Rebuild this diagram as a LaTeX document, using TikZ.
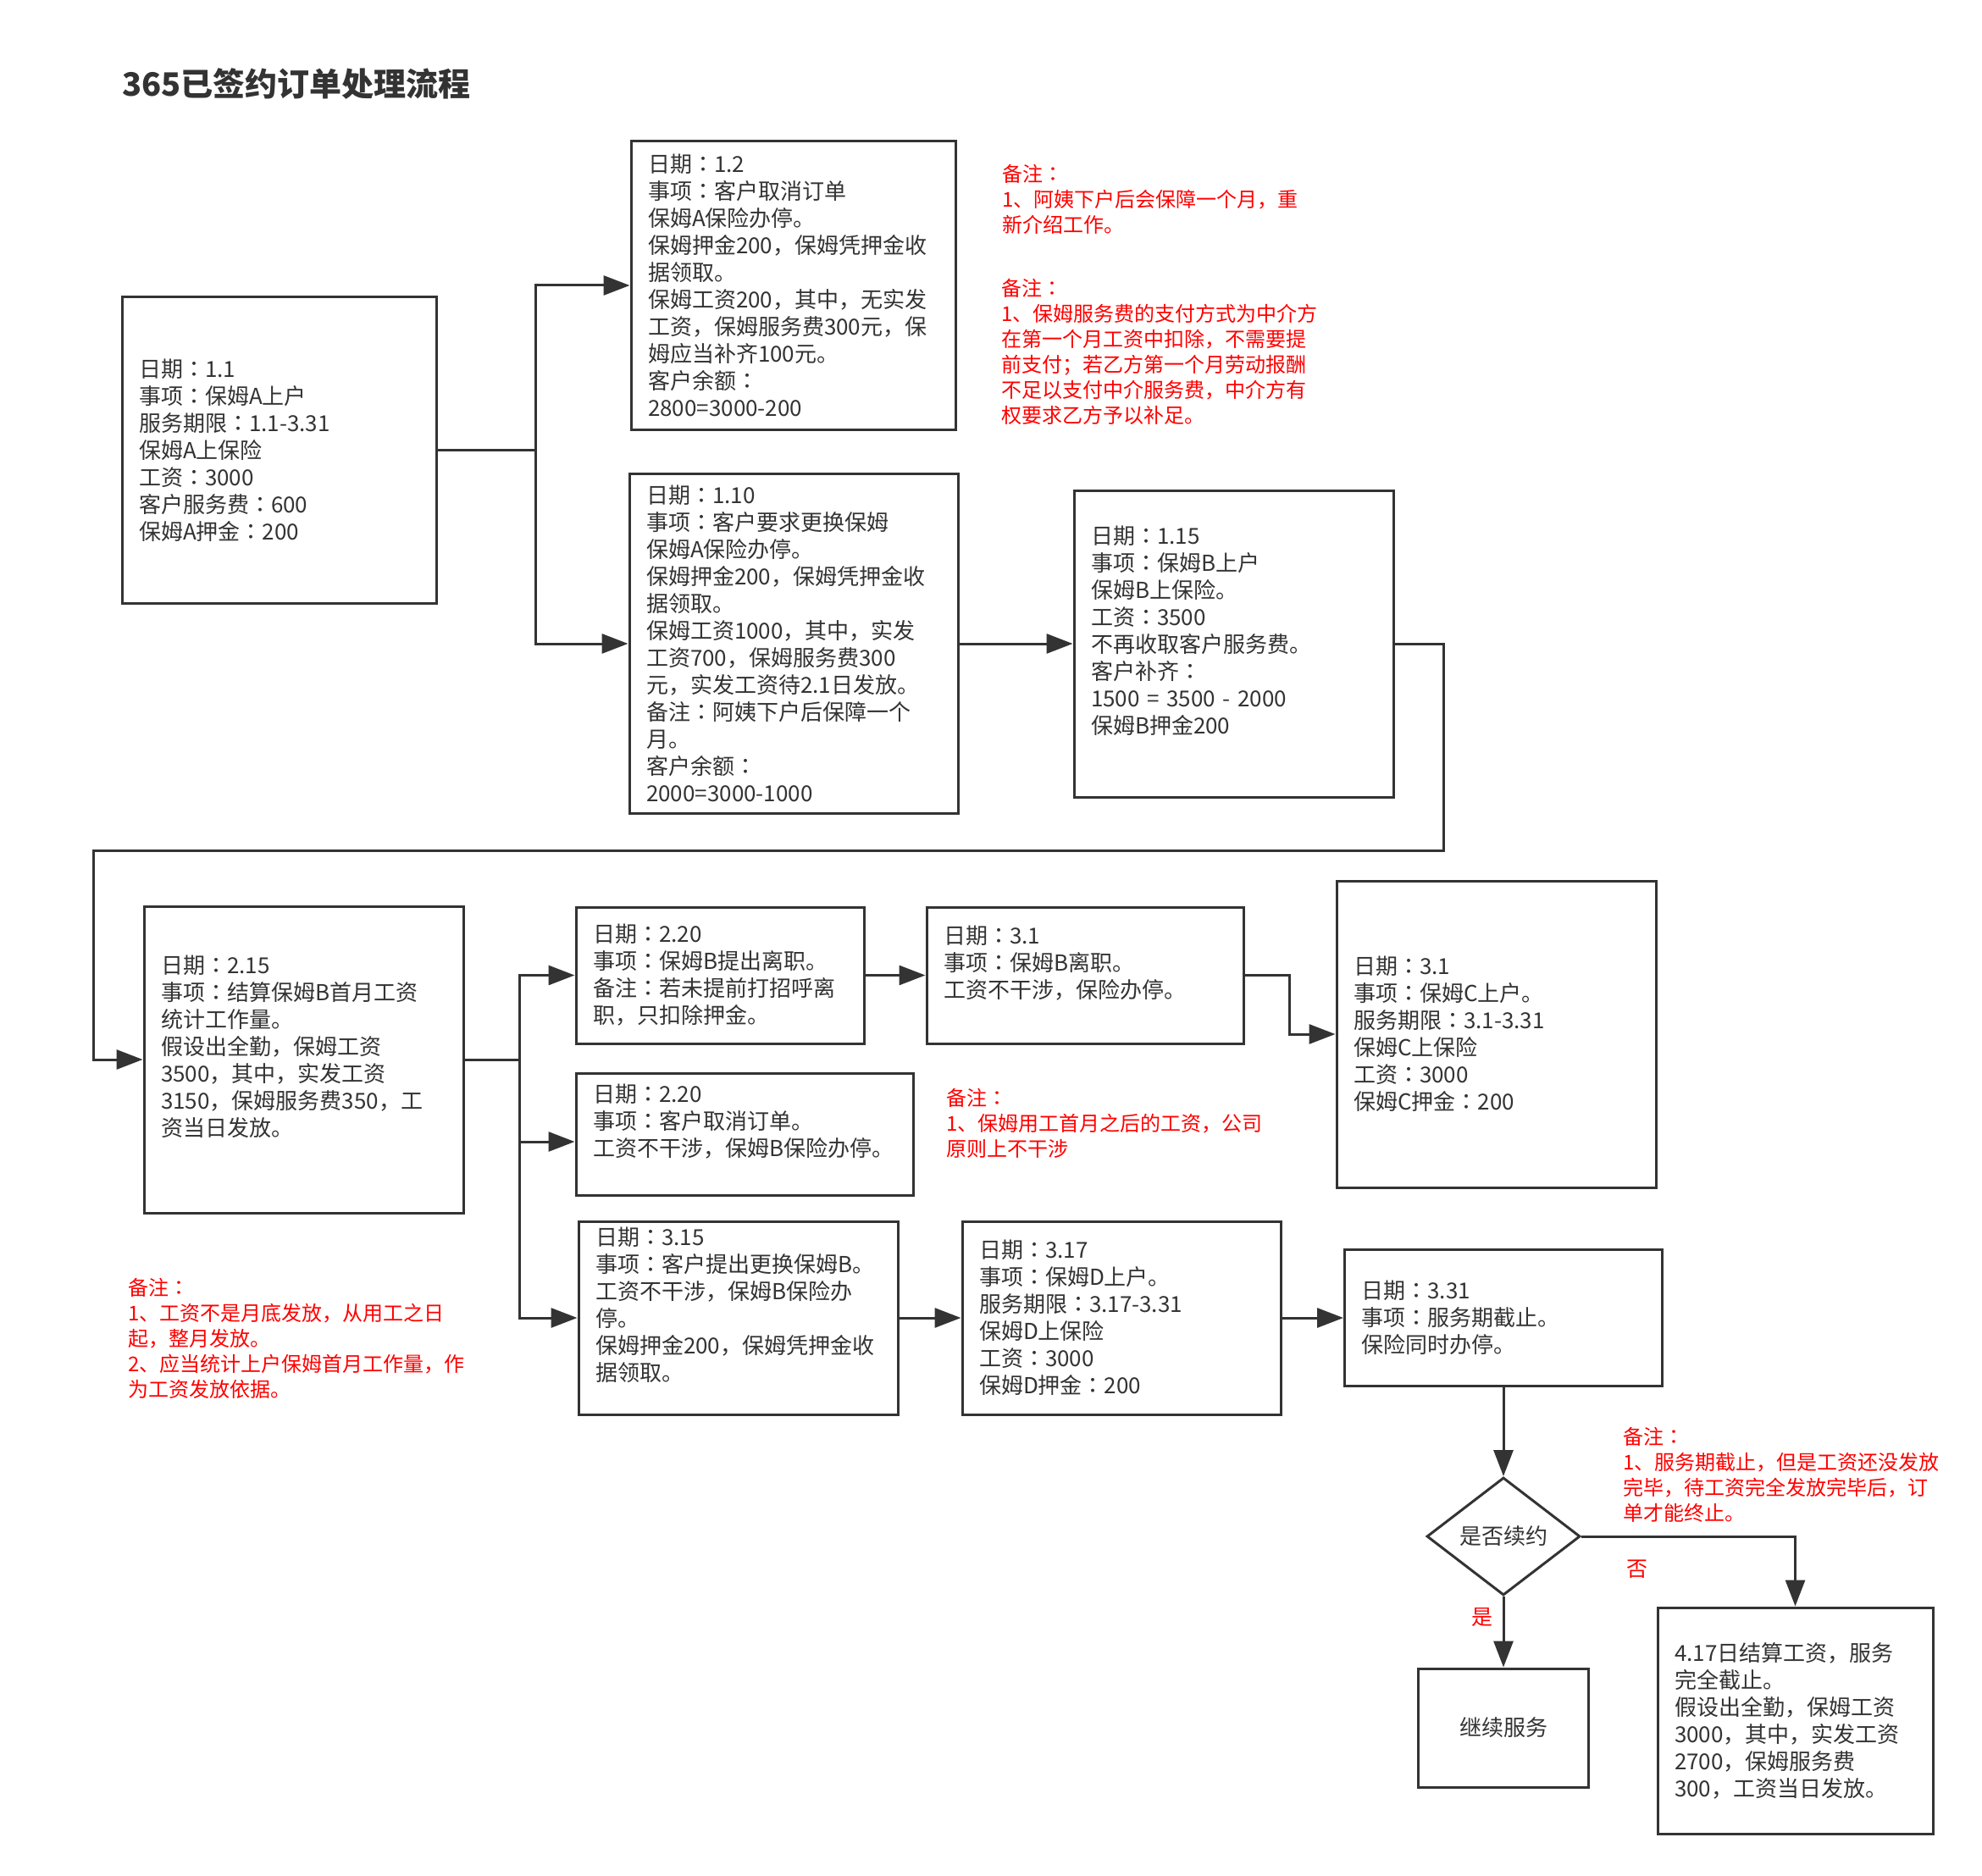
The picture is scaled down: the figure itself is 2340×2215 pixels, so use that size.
\documentclass[tikz,border=0pt]{standalone}
\usepackage{fontspec}
\setmainfont{Noto Sans CJK SC}
\newfontfamily\jpfont{Noto Sans CJK JP}
\newcommand\cln{{\jpfont ：}}
\usetikzlibrary{arrows.meta,shapes.geometric,calc}
\definecolor{ink}{HTML}{333333}
\definecolor{notered}{HTML}{FF0000}
\tikzset{
  box/.style={draw=ink, line width=3pt, rectangle, inner xsep=20pt, inner ysep=0pt,
    align=left, text=ink, font=\fontsize{26}{32}\selectfont},
  cbox/.style={draw=ink, line width=3pt, rectangle, inner sep=0pt, align=center,
    text=ink, font=\fontsize{26}{32}\selectfont},
  decision/.style={draw=ink, line width=3pt, diamond, inner sep=0pt, aspect=1.3,
    text=ink, font=\fontsize{26}{32}\selectfont},
  conn/.style={draw=ink, line width=3pt, -{Triangle[length=31pt,width=23pt]}},
  notetext/.style={anchor=west, inner sep=0pt, align=left, text=notered,
    font=\fontsize{24}{30}\selectfont},
  lbl/.style={inner sep=0pt, text=notered, font=\fontsize{25}{30}\selectfont},
  title/.style={anchor=west, inner sep=0pt, text=ink, font=\fontsize{38}{44}\selectfont\bfseries},
}
\begin{document}
\begin{tikzpicture}[x=1pt,y=-1pt]
\useasboundingbox[fill=white] (0,0) rectangle (2340,2215);

\node[title] (ttl) at (144,99) {365已签约订单处理流程};

% first row
\node[box, minimum width=371pt, text width=331pt, minimum height=361pt] (A) at (329.5,531.5)
 {日期\cln{}1.1\\事项\cln{}保姆A上户\\服务期限\cln{}1.1-3.31\\保姆A上保险\\工资\cln{}3000\\客户服务费\cln{}600\\保姆A押金\cln{}200};

\node[box, minimum width=383pt, text width=343pt, minimum height=340pt] (B12) at (936.5,337)
 {日期\cln{}1.2\\事项\cln{}客户取消订单\\保姆A保险办停。\\保姆押金200，保姆凭押金收\\据领取。\\保姆工资200，其中，无实发\\工资，保姆服务费300元，保\\姆应当补齐100元。\\客户余额\cln{}\\2800=3000-200};

\node[box, minimum width=388pt, text width=348pt, minimum height=401pt] (B110) at (937,760)
 {日期\cln{}1.10\\事项\cln{}客户要求更换保姆\\保姆A保险办停。\\保姆押金200，保姆凭押金收\\据领取。\\保姆工资1000，其中，实发\\工资700，保姆服务费300\\元，实发工资待2.1日发放。\\备注\cln{}阿姨下户后保障一个\\月。\\客户余额\cln{}\\2000=3000-1000};

\node[box, minimum width=377pt, text width=337pt, minimum height=362pt] (B115) at (1456.5,760)
 {日期\cln{}1.15\\事项\cln{}保姆B上户\\保姆B上保险。\\工资\cln{}3500\\不再收取客户服务费。\\客户补齐\cln{}\\1500 = 3500 - 2000\\保姆B押金200\\~};

% second row
\node[box, minimum width=377pt, text width=337pt, minimum height=362pt] (B215) at (358.5,1251)
 {日期\cln{}2.15\\事项\cln{}结算保姆B首月工资\\统计工作量。\\假设出全勤，保姆工资\\3500，其中，实发工资\\3150，保姆服务费350，工\\资当日发放。\\~};

\node[box, minimum width=340pt, text width=300pt, minimum height=161pt] (B220a) at (850,1151.5)
 {日期\cln{}2.20\\事项\cln{}保姆B提出离职。\\备注\cln{}若未提前打招呼离\\职，只扣除押金。};

\node[box, minimum width=398pt, text width=358pt, minimum height=144pt] (B220b) at (879,1339)
 {日期\cln{}2.20\\事项\cln{}客户取消订单。\\工资不干涉，保姆B保险办停。\\~};

\node[box, minimum width=377pt, text width=337pt, minimum height=228pt] (B315) at (871.5,1556)
 {日期\cln{}3.15\\事项\cln{}客户提出更换保姆B。\\工资不干涉，保姆B保险办\\停。\\保姆押金200，保姆凭押金收\\据领取。\\~};

\node[box, minimum width=374pt, text width=334pt, minimum height=161pt] (B31B) at (1281,1151.5)
 {日期\cln{}3.1\\事项\cln{}保姆B离职。\\工资不干涉，保险办停。\\~};

\node[box, minimum width=377pt, text width=337pt, minimum height=362pt] (B31C) at (1766.5,1221)
 {日期\cln{}3.1\\事项\cln{}保姆C上户。\\服务期限\cln{}3.1-3.31\\保姆C上保险\\工资\cln{}3000\\保姆C押金\cln{}200};

\node[box, minimum width=376pt, text width=336pt, minimum height=228pt] (B317) at (1324,1556)
 {日期\cln{}3.17\\事项\cln{}保姆D上户。\\服务期限\cln{}3.17-3.31\\保姆D上保险\\工资\cln{}3000\\保姆D押金\cln{}200};

\node[box, minimum width=375pt, text width=335pt, minimum height=161pt] (B331) at (1775,1556)
 {日期\cln{}3.31\\事项\cln{}服务期截止。\\保险同时办停。};

\node[decision, minimum width=181pt, minimum height=139pt] (D) at (1775,1814) {是否续约};

\node[cbox, minimum width=201pt, minimum height=140pt] (Bc) at (1775,2040) {继续服务};

\node[box, minimum width=325pt, text width=285pt, minimum height=267pt] (B417) at (2119.5,2031.5)
 {4.17日结算工资，服务\\完全截止。\\假设出全勤，保姆工资\\3000，其中，实发工资\\2700，保姆服务费\\300，工资当日发放。};

% notes
\node[notetext] (N1) at (1183,235.5) {备注\cln{}\\1、阿姨下户后会保障一个月，重\\新介绍工作。};
\node[notetext] (N2) at (1182,415) {备注\cln{}\\1、保姆服务费的支付方式为中介方\\在第一个月工资中扣除，不需要提\\前支付；若乙方第一个月劳动报酬\\不足以支付中介服务费，中介方有\\权要求乙方予以补足。};
\node[notetext] (N3) at (1117,1326) {备注\cln{}\\1、保姆用工首月之后的工资，公司\\原则上不干涉};
\node[notetext] (N4) at (1916,1741.5) {备注\cln{}\\1、服务期截止，但是工资还没发放\\完毕，待工资完全发放完毕后，订\\单才能终止。};
\node[notetext] (N5) at (151,1580) {备注\cln{}\\1、工资不是月底发放，从用工之日\\起，整月发放。\\2、应当统计上户保姆首月工作量，作\\为工资发放依据。};

\node[lbl] (yes) at (1750,1910) {是};
\node[lbl] (no) at (1933,1853) {否};

% connectors
\coordinate (r1) at (1704,1004);
\coordinate (l1) at (110,1004);
\draw[conn] (A.east) -- ++(116,0) |- (B12.west);
\draw[conn] (A.east) -- ++(116,0) |- (B110.west);
\draw[conn] (B110.east) -- (B115.west);
\draw[conn] (B115.east) -| (r1) -- (l1) |- (B215.west);
\draw[conn] (B215.east) -- ++(65,0) |- (B220a.west);
\draw[conn] (B215.east) -- ++(65,0) |- ([yshift=-9pt]B220b.west);
\draw[conn] (B215.east) -- ++(65,0) |- (B315.west);
\draw[conn] (B220a.east) -- (B31B.west);
\draw[conn] (B31B.east) -- ++(53,0) |- (B31C.west);
\draw[conn] (B315.east) -- (B317.west);
\draw[conn] (B317.east) -- (B331.west);
\draw[conn] (B331.south) -- (D.north);
\draw[conn] (D.south) -- (Bc.north);
\draw[conn] (D.east) -| (B417.north);
\end{tikzpicture}
\end{document}
